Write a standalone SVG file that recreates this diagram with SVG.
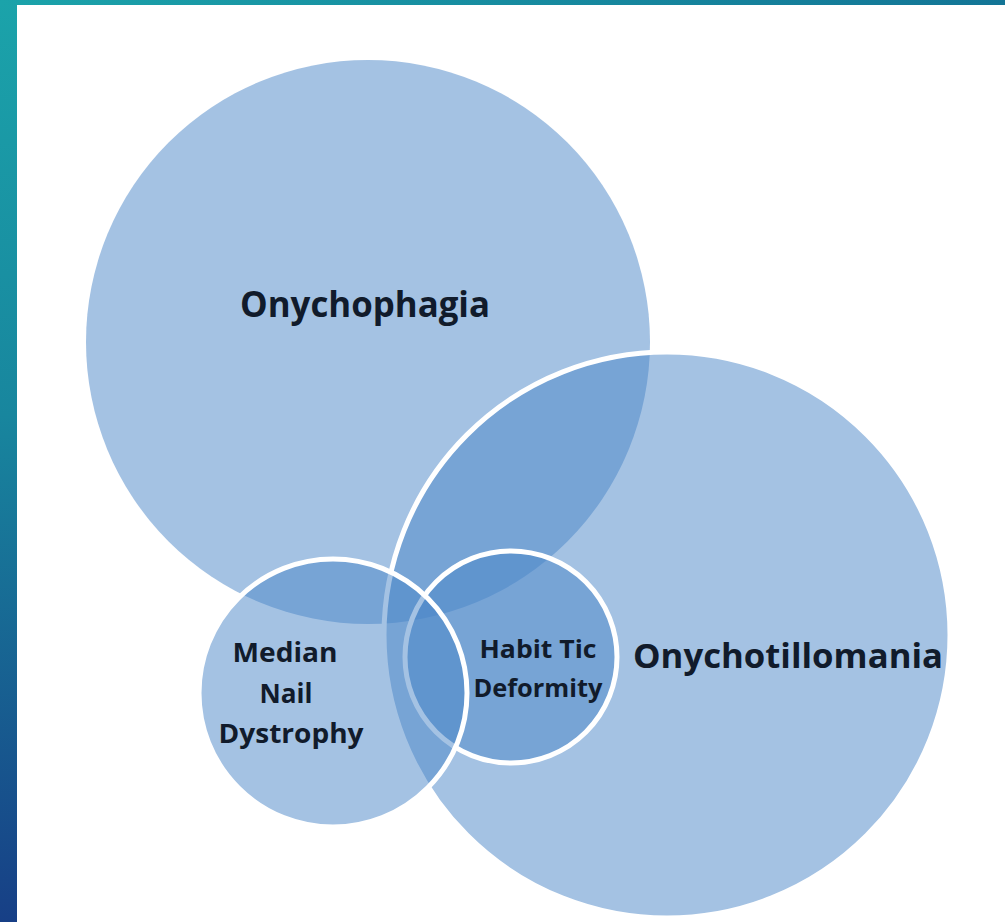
<svg xmlns="http://www.w3.org/2000/svg" width="1005" height="922" viewBox="0 0 1005 922">
  <defs>
    <linearGradient id="leftBg" x1="0" y1="0" x2="0" y2="1">
      <stop offset="0" stop-color="#1ba3aa"/>
      <stop offset="0.45" stop-color="#18869e"/>
      <stop offset="1" stop-color="#173f86"/>
    </linearGradient>
    <linearGradient id="topBg" x1="0" y1="0" x2="1" y2="0">
      <stop offset="0" stop-color="#1ba3aa"/>
      <stop offset="1" stop-color="#137596"/>
    </linearGradient>
    <style>
      .set { fill: #4a86c8; fill-opacity: 0.5; }
      .ring { stroke: #ffffff; stroke-width: 5; }
      .lbl { font-family: "Open Sans", "Liberation Sans", sans-serif; font-weight: 700; fill: #111b2b; text-anchor: middle; }
    </style>
  </defs>
  <rect x="0" y="0" width="1005" height="922" fill="#ffffff"/>
  <rect x="0" y="0" width="17" height="922" fill="url(#leftBg)"/>
  <rect x="0" y="0" width="1005" height="5" fill="url(#topBg)"/>

  <g id="onychophagia">
    <circle class="set" cx="368" cy="342" r="282"/>
    <text class="lbl" x="365" y="317" font-size="35" textLength="250" lengthAdjust="spacingAndGlyphs">Onychophagia</text>
  </g>
  <g id="onychotillomania">
    <circle class="set ring" cx="667" cy="635" r="283"/>
    <text class="lbl" x="788" y="668" font-size="34" textLength="310" lengthAdjust="spacingAndGlyphs">Onychotillomania</text>
  </g>
  <g id="habit-tic-deformity">
    <circle class="set ring" cx="511" cy="657" r="106"/>
    <text class="lbl" x="538" y="658" font-size="25" textLength="117" lengthAdjust="spacingAndGlyphs">Habit Tic</text>
    <text class="lbl" x="538" y="697" font-size="25" textLength="129" lengthAdjust="spacingAndGlyphs">Deformity</text>
  </g>
  <g id="median-nail-dystrophy">
    <circle class="set ring" cx="333" cy="693" r="134"/>
    <text class="lbl" x="285" y="662" font-size="26" textLength="105" lengthAdjust="spacingAndGlyphs">Median</text>
    <text class="lbl" x="286" y="703" font-size="26" textLength="53" lengthAdjust="spacingAndGlyphs">Nail</text>
    <text class="lbl" x="291" y="743" font-size="26" textLength="145" lengthAdjust="spacingAndGlyphs">Dystrophy</text>
  </g>
</svg>
